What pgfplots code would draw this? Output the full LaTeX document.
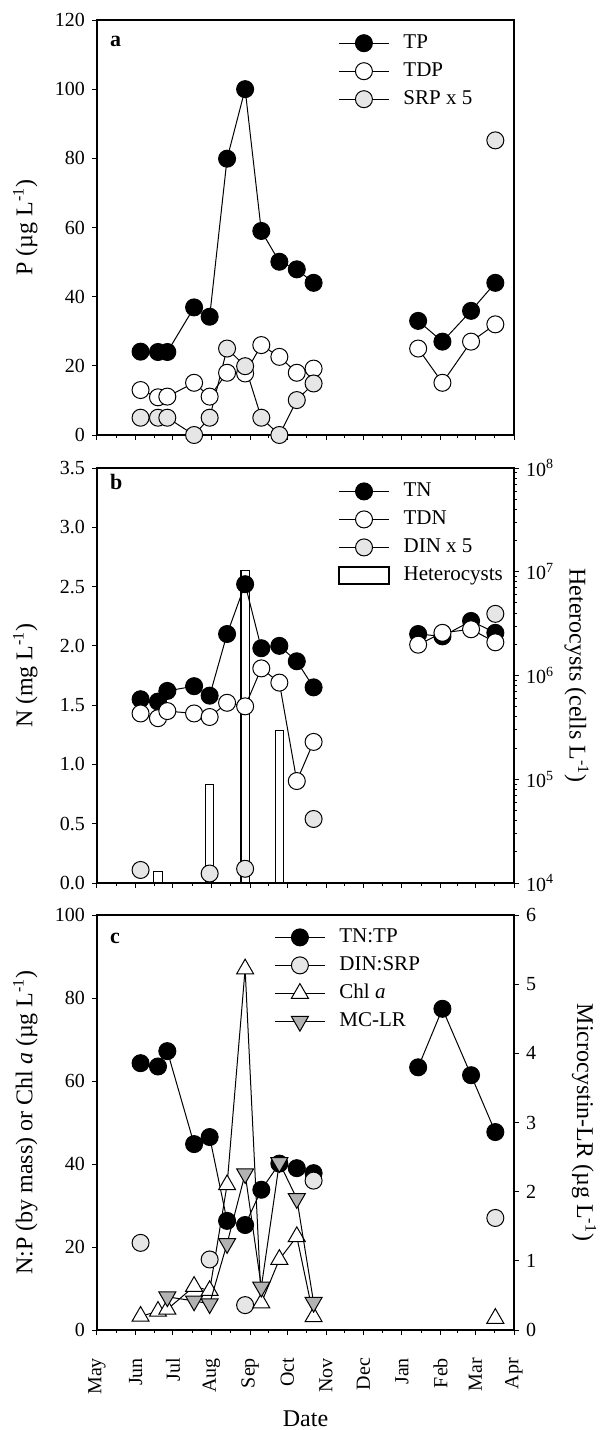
\documentclass[border=0pt]{standalone}
\usepackage{fontspec}
\setmainfont{Liberation Serif}
\usepackage{pgfplots}
\pgfplotsset{compat=1.18}

\definecolor{lgray}{RGB}{230,230,230}
\definecolor{mgray}{RGB}{178,178,178}

% x in days from 1 May
\pgfplotsset{
  panel/.style={
    width=208.5pt, height=207.5pt, scale only axis,
    xmin=0, xmax=335,
    xtick={0,31,61,92,123,153,184,214,245,276,304,335},
    minor xtick={15.5,46,76.5,107.5,138,168.5,199,229.5,260.5,290,319.5},
    xtick pos=bottom,
    tick align=outside,
    major tick length=2.5pt, minor tick length=1.5pt,
    every tick/.style={black, line width=0.5pt},
    axis line style={line width=0.6pt},
    tick label style={font=\fontsize{10}{12}\selectfont},
    label style={font=\fontsize{12}{14}\selectfont},
    /pgf/number format/assume math mode=true,
    clip=false,
    unbounded coords=jump,
    legend style={draw=none, fill=none, inner sep=0pt, anchor=north west,
      font=\fontsize{10.5}{12}\selectfont, row sep=2pt,
      nodes={inner sep=1pt, text height=7.5pt, text depth=2.5pt},
      /tikz/every odd column/.append style={column sep=6pt}},
    legend cell align=left,
    legend image code/.code={\draw[mark repeat=2, mark phase=2, #1]
      plot coordinates {(0pt,0pt) (12.5pt,0pt) (25pt,0pt)};},
    ylabel style={at={(axis description cs:-0.172,0.5)}, anchor=center},
  },
  leftax/.style={panel, ytick pos=left},
  ser/.style={black, line width=0.5pt, mark size=4.25pt,
    mark options={line width=0.5pt, solid}},
  blk/.style={ser, mark=*, mark options={fill=black}},
  wht/.style={ser, mark=*, mark options={fill=white}},
  gry/.style={ser, mark=*, mark options={fill=lgray}},
  tup/.style={ser, mark=triangle*, mark size=4.9pt, mark options={fill=white}},
  tdn/.style={ser, mark=triangle*, mark size=4.9pt, mark options={fill=mgray, rotate=180}},
}

\begin{document}
\begin{tikzpicture}
\path[use as bounding box] (-48.5pt,10pt) rectangle (252.5pt,-705pt);

% ---------------- panel a ----------------
\begin{axis}[leftax, at={(0pt,0pt)}, anchor=north west,
    ymin=0, ymax=120, ytick={0,20,...,120},
    xticklabels={},
    ylabel={P (µg L\textsuperscript{-1})},
    legend style={at={(axis description cs:0.578,0.974)}}]
\addplot[blk] coordinates {
  (35,24.1) (49,24) (56.5,24) (78,36.9) (90.5,34.2) (104.5,79.9) (119,100)
  (132,59) (146.5,50.1) (160.5,47.9) (174,44) (210,nan)
  (258,33) (277.5,27) (300.5,35.9) (320,44)};
\addlegendentry{TP}
\addplot[wht] coordinates {
  (35,13) (49,10.9) (56.5,11.1) (78,15.1) (90.5,11.1) (104.5,18) (119,17.8)
  (132,26) (146.5,22.6) (160.5,18) (174,19.2) (210,nan)
  (258,25) (277.5,15.1) (300.5,27) (320,32)};
\addlegendentry{TDP}
\addplot[gry] coordinates {
  (35,5) (49,5) (56.5,5) (78,0) (90.5,5) (104.5,25) (119,19.9)
  (132,5) (146.5,0) (160.5,10.1) (174,14.9) (210,nan) (320,85.2)};
\addlegendentry{SRP x 5}
\node[anchor=base west, font=\fontsize{11}{12}\selectfont\bfseries]
  at (axis description cs:0.0144,0.935) {a};
\end{axis}

% ---------------- panel b ----------------
\begin{axis}[panel, at={(0pt,-224pt)}, anchor=north west,
    ymode=log, ymin=1e4, ymax=1e8, log origin=infty,
    axis x line=none, axis y line*=right,
    ytick={1e4,1e5,1e6,1e7,1e8},
    yticklabels={10\textsuperscript{4},10\textsuperscript{5},10\textsuperscript{6},10\textsuperscript{7},10\textsuperscript{8}},
    ylabel={Heterocysts (cells L\textsuperscript{-1})},
    ylabel style={at={(axis description cs:1.15,0.5)}, anchor=center, rotate=180}]
\addplot[ybar, bar width=4.2pt, bar shift=0pt, draw=black, fill=white, line width=0.6pt]
  coordinates {(49,1.3e4) (90.5,8.9e4) (119,1.02e7) (146.5,2.96e5)};
\end{axis}

\begin{axis}[leftax, at={(0pt,-224pt)}, anchor=north west,
    ymin=0, ymax=3.5, ytick={0,0.5,...,3.5},
    yticklabel style={/pgf/number format/.cd, fixed, fixed zerofill, precision=1},
    xticklabels={},
    ylabel={N (mg L\textsuperscript{-1})},
    legend style={at={(axis description cs:0.578,0.9735)}}]
\addplot[blk] coordinates {
  (35,1.55) (49,1.53) (56.5,1.62) (78,1.66) (90.5,1.58) (104.5,2.10) (119,2.52)
  (132,1.98) (146.5,2.00) (160.5,1.87) (174,1.65) (210,nan)
  (258,2.10) (277.5,2.08) (300.5,2.21) (320,2.11)};
\addlegendentry{TN}
\addplot[wht] coordinates {
  (35,1.43) (49,1.39) (56.5,1.45) (78,1.43) (90.5,1.40) (104.5,1.52) (119,1.49)
  (132,1.81) (146.5,1.69) (160.5,0.86) (174,1.19) (210,nan)
  (258,2.01) (277.5,2.11) (300.5,2.14) (320,2.03)};
\addlegendentry{TDN}
\addplot[gry] coordinates {
  (35,0.11) (60,nan) (90.5,0.08) (100,nan) (119,0.12) (150,nan) (174,0.54)
  (250,nan) (320,2.27)};
\addlegendentry{DIN x 5}
\addlegendimage{legend image code/.code={\draw[black, line width=0.6pt, fill=white]
  (0pt,-4.25pt) rectangle (25pt,4.25pt);}}
\addlegendentry{Heterocysts}
\node[anchor=base west, font=\fontsize{11}{12}\selectfont\bfseries]
  at (axis description cs:0.0144,0.949) {b};
\end{axis}

% ---------------- panel c ----------------
\begin{axis}[leftax, at={(0pt,-447.5pt)}, anchor=north west,
    ymin=0, ymax=100, ytick={0,20,...,100},
    xticklabels={May,Jun,Jul,Aug,Sep,Oct,Nov,Dec,Jan,Feb,Mar,Apr},
    xticklabel style={rotate=90, anchor=east},
    xticklabel shift=8pt,
    xlabel={Date},
    xlabel style={at={(axis description cs:0.5,-0.2145)}, anchor=center},
    ylabel={N:P (by mass) or Chl \textit{a} (µg L\textsuperscript{-1})},
    legend style={at={(axis description cs:0.4245,0.976)}}]
\addplot[blk] coordinates {
  (35,64.3) (49,63.5) (56.5,67.2) (78,44.8) (90.5,46.5) (104.5,26.3) (119,25.3)
  (132,33.8) (146.5,40.1) (160.5,39) (174,37.8) (210,nan)
  (258,63.3) (277.5,77.4) (300.5,61.4) (320,47.7)};
\addlegendentry{TN:TP}
\addplot[gry] coordinates {
  (35,21) (60,nan) (90.5,17) (100,nan) (119,6) (150,nan) (174,36)
  (250,nan) (320,27)};
\addlegendentry{DIN:SRP}
\addplot[tup] coordinates {
  (35,3.3) (49,4.5) (56.5,5) (78,10.5) (90.5,9.5) (104.5,35) (119,87)
  (132,6.5) (146.5,17) (160.5,22.5) (174,3.2) (250,nan) (320,2.8)};
\addlegendentry{Chl \textit{a}}
\addlegendimage{tdn}
\addlegendentry{MC-LR}
\node[anchor=base west, font=\fontsize{11}{12}\selectfont\bfseries]
  at (axis description cs:0.0144,0.9325) {c};
\end{axis}

\begin{axis}[panel, at={(0pt,-447.5pt)}, anchor=north west,
    ymin=0, ymax=6, ytick={0,1,...,6},
    axis x line=none, axis y line*=right,
    ylabel={Microcystin-LR (µg L\textsuperscript{-1})},
    ylabel style={at={(axis description cs:1.168,0.5)}, anchor=center, rotate=180}]
\addplot[tdn] coordinates {
  (56.5,0.48) (78,0.42) (90.5,0.38) (104.5,1.25) (119,2.26) (132,0.62)
  (146.5,2.42) (160.5,1.9) (174,0.4)};
\end{axis}
\end{tikzpicture}
\end{document}
